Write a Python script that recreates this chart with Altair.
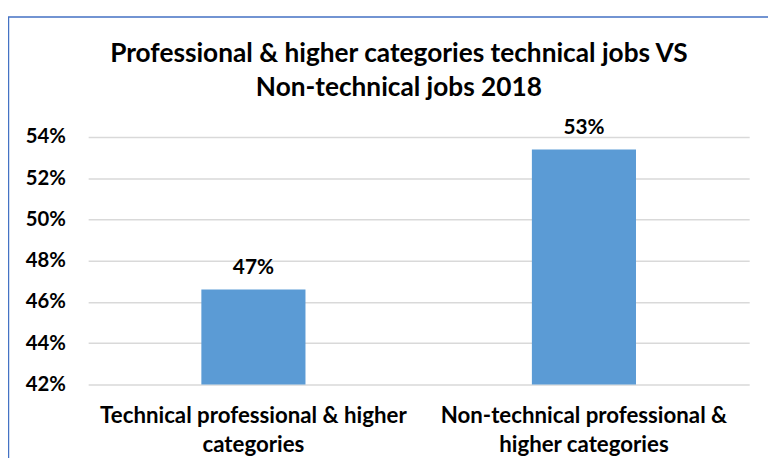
import altair as alt
import pandas as pd

# ---- data ----
categories = [
    "Technical professional & higher categories",
    "Non-technical professional & higher categories",
]
label_lines = [
    ["Technical professional & higher", "categories"],
    ["Non-technical professional &", "higher categories"],
]
shares = [0.466, 0.534]
y_ticks = [0.42, 0.44, 0.46, 0.48, 0.50, 0.52, 0.54]
title_lines = [
    "Professional & higher categories technical jobs VS",
    "Non-technical jobs 2018",
]

df = pd.DataFrame({"category": categories, "share": shares})

# label expression producing two-line category labels
parts = []
for cat, lines in zip(categories[:-1], label_lines[:-1]):
    arr = "[" + ",".join("'" + l + "'" for l in lines) + "]"
    parts.append(f"datum.label == '{cat}' ? {arr}")
last = "[" + ",".join("'" + l + "'" for l in label_lines[-1]) + "]"
label_expr = " : ".join(parts + [last])

FONT = "Lato"
BAR = "#5B9BD5"

x_enc = alt.X(
    "category:N",
    sort=categories,
    scale=alt.Scale(paddingInner=0.685, paddingOuter=0.3425),
    axis=alt.Axis(
        title=None,
        labelAngle=0,
        labelExpr=label_expr,
        labelFont=FONT,
        labelFontSize=22.5,
        labelFontWeight="bold",
        labelColor="#000000",
        labelLineHeight=29,
        labelPadding=21,
        ticks=False,
        domain=False,
        grid=False,
        labelLimit=400,
    ),
)
y_enc = alt.Y(
    "share:Q",
    scale=alt.Scale(domain=[0.42, 0.54], zero=False, nice=False),
    axis=alt.Axis(
        title=None,
        values=y_ticks,
        format=".0%",
        labelFont=FONT,
        labelFontSize=20.5,
        labelFontWeight="bold",
        labelColor="#000000",
        labelPadding=23,
        ticks=False,
        domain=False,
        grid=True,
        gridColor="#D9D9D9",
        gridWidth=1.5,
    ),
)

bars = alt.Chart(df).mark_bar(color=BAR, clip=True).encode(x=x_enc, y=y_enc)

labels = alt.Chart(df).mark_text(
    font=FONT, fontSize=21, fontWeight="bold", color="#000000",
    baseline="bottom", dy=-12,
).encode(
    x=alt.X("category:N", sort=categories),
    y=alt.Y("share:Q"),
    text=alt.Text("share:Q", format=".0%"),
)

border = alt.Chart(pd.DataFrame({"k": [0]})).mark_rect(
    fillOpacity=0, stroke="#4472C4", strokeWidth=1.5, clip=False
).encode(
    x=alt.value(-80.5), x2=alt.value(720), y=alt.value(-121.3), y2=alt.value(420)
)

chart = alt.layer(border, bars, labels).properties(
    width=668,
    height=250,
    autosize=alt.AutoSizeParams(type="none"),
    padding={"left": 81, "top": 128, "right": 19, "bottom": 72},
    title=alt.Title(
        title_lines,
        anchor="middle",
        frame="group",
        dx=-20,
        font=FONT,
        fontSize=26.5,
        fontWeight="bold",
        color="#000000",
        lineHeight=34,
        offset=-86,
    ),
).configure_view(strokeWidth=0)

chart.save("out.html", embed_options={"renderer": "svg", "actions": False})
